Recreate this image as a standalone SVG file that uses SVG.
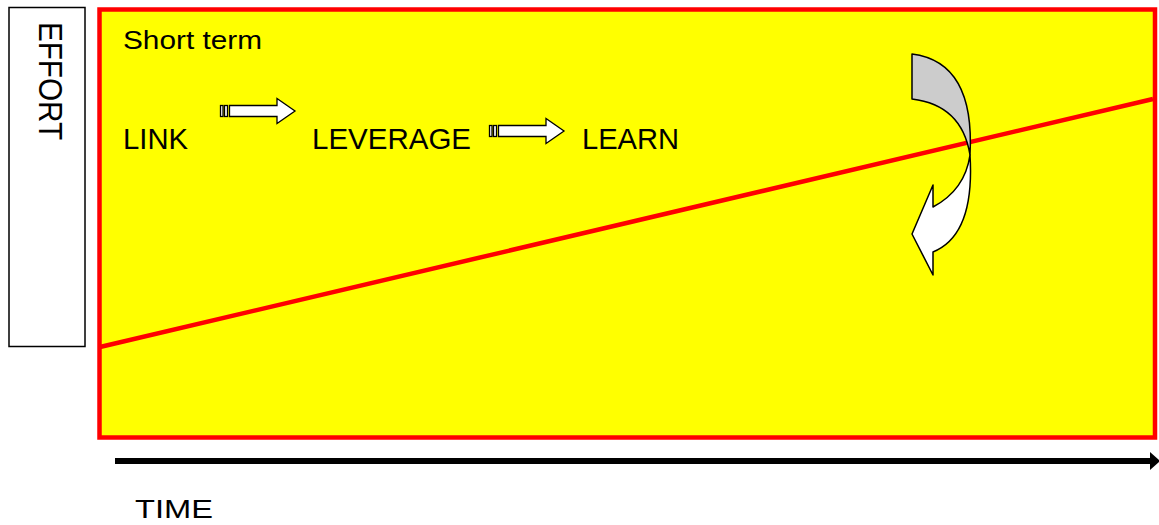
<svg xmlns="http://www.w3.org/2000/svg" xmlns:xlink="http://www.w3.org/1999/xlink" width="1159" height="525" viewBox="0 0 1159 525">
<style>
.t{font-family:"Liberation Sans",Arial,sans-serif;fill:#000}
.sa{fill:#fff;stroke:#000;stroke-width:1.3}
.ca{stroke:#000;stroke-width:1.5;stroke-linejoin:round}
</style>
<defs>
<g id="stripedArrow">
<rect class="sa" x="0.5" y="-5.5" width="2.5" height="11"/>
<rect class="sa" x="4.5" y="-5.5" width="3" height="11"/>
<path class="sa" d="M9.5,-5.5 H57 V-12.5 L75,0 L57,12.5 V5.5 H9.5 Z"/>
</g>
<marker id="timeHead" markerUnits="userSpaceOnUse" markerWidth="12" markerHeight="18" refX="0" refY="9" orient="auto">
<path d="M0,0 L10,9 L0,18 Z" fill="#000"/>
</marker>
</defs>
<rect width="1159" height="525" fill="#fff"/>
<g id="effort">
<rect x="9" y="7.5" width="76" height="339" fill="#fff" stroke="#000" stroke-width="1.5"/>
<text class="t" transform="translate(38.5,22) rotate(90)" font-size="33" textLength="118" lengthAdjust="spacingAndGlyphs">EFFORT</text>
</g>
<g id="panel">
<rect x="99.5" y="9.5" width="1055.5" height="428" fill="#FFFF00" stroke="#FF0000" stroke-width="4.5"/>
<text class="t" x="123" y="48.5" font-size="26.5" textLength="139" lengthAdjust="spacingAndGlyphs">Short term</text>
</g>
<g id="connectors">
<line x1="100" y1="347" x2="1153" y2="99" stroke="#FF0000" stroke-width="4.5"/>
<line x1="115" y1="461" x2="1150" y2="461" stroke="#000" stroke-width="6" marker-end="url(#timeHead)"/>
<use xlink:href="#stripedArrow" href="#stripedArrow" transform="translate(220,111)"/>
<use xlink:href="#stripedArrow" href="#stripedArrow" transform="translate(489,131)"/>
</g>
<g id="link"><text class="t" x="123" y="149" font-size="30" textLength="65" lengthAdjust="spacingAndGlyphs">LINK</text></g>
<g id="leverage"><text class="t" x="312" y="149" font-size="30" textLength="159" lengthAdjust="spacingAndGlyphs">LEVERAGE</text></g>
<g id="learn"><text class="t" x="582" y="149" font-size="30" textLength="97" lengthAdjust="spacingAndGlyphs">LEARN</text></g>
<g id="curvedArrow">
<path class="ca" fill="#CCCCCC" d="M912,54 Q975,62 970,155 Q962,105 912,99 Z"/>
<path class="ca" fill="#FFFFFF" d="M970,155 Q975,235 933,252 L933,275 L912,234 L933,185 L933,207 Q965,190 970,155 Z"/>
</g>
<g id="time"><text class="t" x="135" y="518" font-size="25" textLength="78" lengthAdjust="spacingAndGlyphs">TIME</text></g>
</svg>
